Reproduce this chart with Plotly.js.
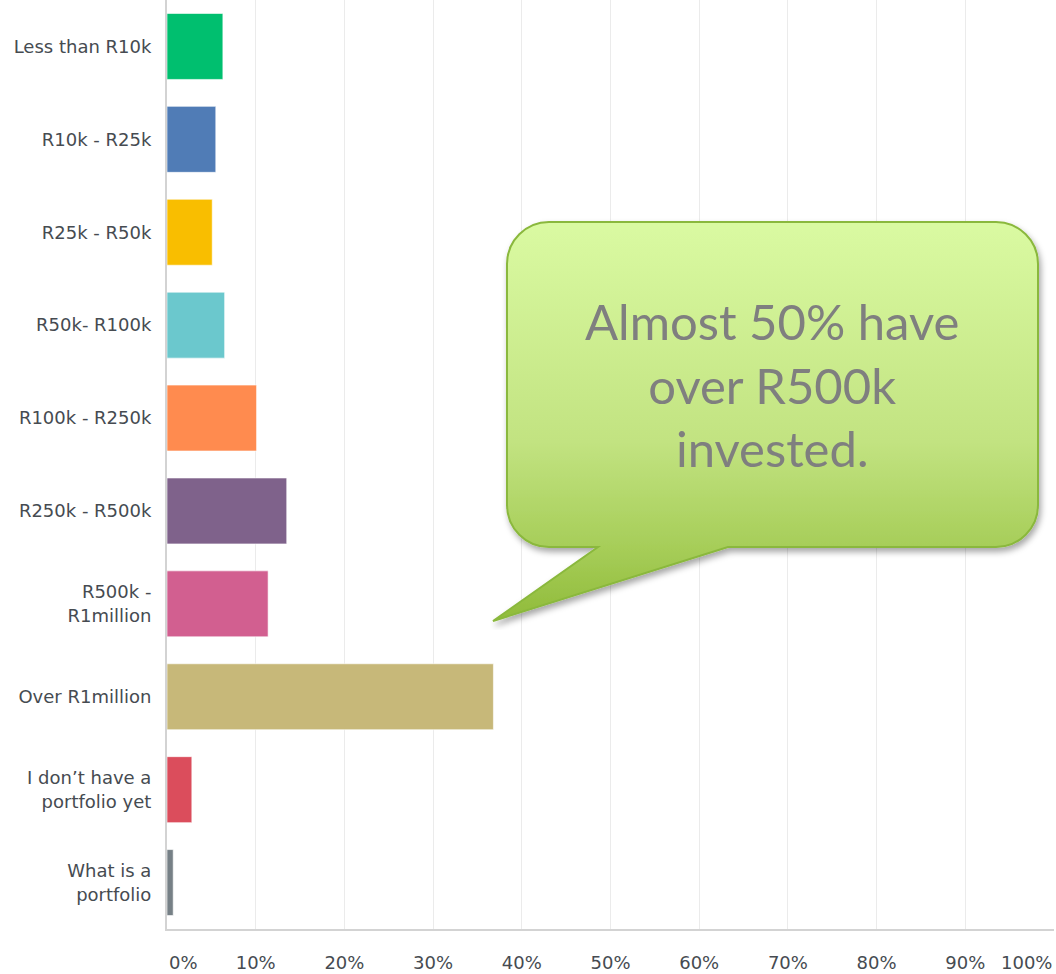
<!DOCTYPE html>
<html>
<head>
<meta charset="utf-8">
<script src="https://cdn.plot.ly/plotly-3.0.1.min.js"></script>
<style>
  html, body { margin: 0; padding: 0; background: #fff; }
  #chart { width: 1056px; height: 974px; }
</style>
</head>
<body>
<div id="chart"></div>
<script>
var categories = [
    'Less than R10k', 'R10k - R25k', 'R25k - R50k', 'R50k- R100k', 'R100k - R250k',
    'R250k - R500k', 'R500k -<br>R1million', 'Over R1million',
    'I don\u2019t have a<br>portfolio yet', 'What is a<br>portfolio'
];
var percents = [6.3, 5.5, 5.1, 6.5, 10.1, 13.5, 11.4, 36.8, 2.8, 0.7];
var barColors = ['#00BF6F', '#507CB6', '#F9BE00', '#6BC8CD', '#FF8B4F',
                 '#7F628B', '#D25F90', '#C7B879', '#DB4D5C', '#768086'];
var tickVals = [0, 10, 20, 30, 40, 50, 60, 70, 80, 90, 100];
var tickLabels = ['0%', '10%', '20%', '30%', '40%', '50%', '60%', '70%', '80%', '90%', '100%'];
var calloutText = 'Almost 50% have<br>over R500k<br>invested.';

// speech bubble drawn as an inline svg picture (gradient fill + shadow)
var bubbleSvg =
    '<svg xmlns="http://www.w3.org/2000/svg" width="560" height="415" viewBox="0 0 560 415">' +
    '<defs>' +
    '<linearGradient id="g" x1="0" y1="7" x2="0" y2="406" gradientUnits="userSpaceOnUse">' +
    '<stop offset="0" stop-color="#dafaa2"/><stop offset="0.55" stop-color="#c2e381"/>' +
    '<stop offset="0.82" stop-color="#a6cd58"/><stop offset="1" stop-color="#90bb3a"/>' +
    '</linearGradient>' +
    '<filter id="s" x="-10%" y="-10%" width="130%" height="130%">' +
    '<feDropShadow dx="2" dy="4" stdDeviation="3" flood-color="#000" flood-opacity="0.35"/>' +
    '</filter></defs>' +
    '<path d="M59 7 H506 A42 42 0 0 1 548 49 V290 A42 42 0 0 1 506 332 H238 L3 406 L108 332 H59 ' +
    'A42 42 0 0 1 17 290 V49 A42 42 0 0 1 59 7 Z" fill="url(#g)" stroke="#8ab83c" stroke-width="2" filter="url(#s)"/>' +
    '</svg>';

var trace = {
    type: 'bar',
    orientation: 'h',
    x: percents,
    y: categories,
    marker: {
        color: barColors,
        line: { color: 'rgba(255,255,255,0.6)', width: 1 }
    },
    hoverinfo: 'none'
};

var labelFont = { family: 'DejaVu Sans, sans-serif', size: 18, color: '#464b51' };

var annotations = [
    {
        xref: 'paper', yref: 'paper', x: 0.682, y: 0.586,
        xanchor: 'center', yanchor: 'middle',
        text: calloutText, showarrow: false, align: 'center',
        font: { family: 'Lato, sans-serif', size: 49, color: '#7f7f7f' }
    },
    {
        xref: 'x', yref: 'paper', x: tickVals[0], y: 0, yshift: -33, xanchor: 'left',
        yanchor: 'middle', text: tickLabels[0], showarrow: false, font: labelFont
    },
    {
        xref: 'x', yref: 'paper', x: tickVals[tickVals.length - 1], y: 0, yshift: -33,
        xanchor: 'right', yanchor: 'middle', text: tickLabels[tickLabels.length - 1],
        showarrow: false, font: labelFont
    }
];

var layout = {
    width: 1056,
    height: 974,
    margin: { l: 167, r: 2, t: 0, b: 45 },
    paper_bgcolor: '#fff',
    plot_bgcolor: '#fff',
    showlegend: false,
    bargap: 0.29,
    xaxis: {
        range: [0, 100],
        tickvals: tickVals.slice(1, -1),
        ticktext: tickLabels.slice(1, -1),
        showgrid: true,
        gridcolor: '#ebebeb',
        gridwidth: 1,
        zeroline: false,
        showline: true,
        linecolor: '#d3d3d3',
        linewidth: 2,
        ticks: '',
        ticklabelstandoff: 16,
        tickfont: labelFont,
        automargin: false,
        fixedrange: true
    },
    yaxis: {
        autorange: 'reversed',
        showgrid: false,
        zeroline: false,
        showline: true,
        linecolor: '#d3d3d3',
        linewidth: 2,
        ticks: '',
        ticklabelstandoff: 10,
        tickfont: labelFont,
        automargin: false,
        fixedrange: true
    },
    images: [{
        source: 'data:image/svg+xml;charset=utf-8,' + encodeURIComponent(bubbleSvg),
        xref: 'paper', yref: 'paper',
        x: (490 - 167) / 887, y: (929 - 215) / 929,
        sizex: 560 / 887, sizey: 415 / 929,
        xanchor: 'left', yanchor: 'top',
        sizing: 'stretch', layer: 'above'
    }],
    annotations: annotations
};

var config = { displayModeBar: false, responsive: false };

Plotly.newPlot('chart', [trace], layout, config);
</script>
</body>
</html>
